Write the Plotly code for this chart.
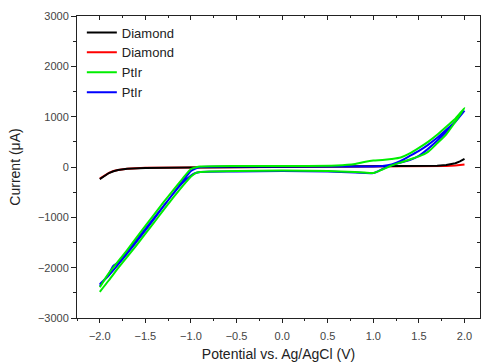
import plotly.graph_objects as go

# Diamond (black)
dia1_x = [-2.0, -1.95, -1.9, -1.85, -1.8, -1.7, -1.6, -1.5, -1.0, -0.5, 0.0, 0.5, 1.0, 1.5, 1.7, 1.8, 1.9, 1.95, 2.0]
dia1_y = [-240, -180, -120, -85, -60, -35, -25, -18, -10, -5, 0, 2, 5, 12, 25, 40, 75, 110, 160]
# Diamond (red)
dia2_x = [-2.0, -1.95, -1.9, -1.85, -1.8, -1.7, -1.6, -1.5, -1.0, -0.5, 0.0, 0.5, 1.0, 1.5, 1.7, 1.8, 1.9, 1.95, 2.0]
dia2_y = [-230, -175, -115, -80, -58, -33, -23, -16, -10, -5, 0, 0, 3, 8, 15, 20, 30, 40, 50]

# PtIr (green) closed loop
ptir1_x = [-2.0, -1.9, -1.8, -1.6, -1.4, -1.2, -1.05, -1.0, -0.95, -0.9, -0.8, -0.5, 0.0, 0.5, 0.8, 0.9, 1.0, 1.1, 1.2, 1.3, 1.4, 1.5, 1.6, 1.7, 1.8, 1.9, 2.0,
           1.9, 1.8, 1.7, 1.6, 1.5, 1.4, 1.3, 1.2, 1.1, 1.0, 0.9, 0.8, 0.6, 0.0, -0.5, -0.9, -0.95, -1.0, -1.1, -1.3, -1.5, -1.7, -1.9, -2.0]
ptir1_y = [-2480, -2250, -2010, -1560, -1090, -620, -290, -190, -120, -100, -90, -80, -70, -80, -100, -110, -120, -50, 30, 90, 150, 210, 300, 470, 650, 900, 1170,
           960, 800, 640, 500, 380, 270, 190, 160, 140, 130, 100, 60, 30, 20, 20, 10, -10, -40, -250, -700, -1170, -1650, -2110, -2390]

# PtIr (blue) closed loop
ptir2_x = [-2.0, -1.9, -1.85, -1.8, -1.7, -1.5, -1.3, -1.1, -1.0, -0.95, -0.9, -0.5, 0.0, 0.5, 0.8, 1.0, 1.1, 1.2, 1.3, 1.4, 1.5, 1.6, 1.7, 1.8, 1.9, 2.0,
           1.9, 1.8, 1.7, 1.6, 1.5, 1.4, 1.3, 1.2, 1.1, 1.0, 0.5, 0.0, -0.5, -0.9, -0.95, -1.0, -1.1, -1.3, -1.5, -1.7, -1.9, -2.0]
ptir2_y = [-2360, -2120, -1960, -1900, -1680, -1230, -770, -330, -170, -120, -100, -90, -80, -90, -110, -120, -40, 40, 90, 140, 220, 360, 520, 700, 900, 1120,
           900, 740, 580, 440, 320, 220, 120, 50, 20, 10, 10, 10, 10, 0, -30, -80, -300, -780, -1260, -1720, -2150, -2330]

font = "Arial, Liberation Sans, sans-serif"

fig = go.Figure()
fig.add_trace(go.Scatter(x=dia2_x, y=dia2_y, mode="lines", name="Diamond",
                         line=dict(color="#ff0000", width=2), legendrank=2))
fig.add_trace(go.Scatter(x=dia1_x, y=dia1_y, mode="lines", name="Diamond",
                         line=dict(color="#000000", width=2), legendrank=1))
fig.add_trace(go.Scatter(x=ptir2_x, y=ptir2_y, mode="lines", name="PtIr",
                         line=dict(color="#0000ff", width=2, shape="spline", smoothing=0.6), legendrank=4))
fig.add_trace(go.Scatter(x=ptir1_x, y=ptir1_y, mode="lines", name="PtIr",
                         line=dict(color="#00ee00", width=2, shape="spline", smoothing=0.6), legendrank=3))

xr = [-2.25, 2.17]
yr = [-3000, 3000]
fig.update_layout(
    width=482, height=364,
    margin=dict(l=77, r=2, t=16, b=46),
    paper_bgcolor="white", plot_bgcolor="white",
    font=dict(family=font, size=11, color="#444444"),
    showlegend=True,
    legend=dict(x=0.012, y=0.995, xanchor="left", yanchor="top",
                bgcolor="rgba(0,0,0,0)", font=dict(size=13, color="#222222"),
                tracegroupgap=0, itemwidth=30),
    xaxis=dict(range=xr, showgrid=False, zeroline=False, showline=True,
               linecolor="#222", linewidth=1, ticks="outside", ticklen=4,
               tickcolor="#222", dtick=0.5, tick0=0, tickformat=".1f",
               ticklabelstandoff=4,
               minor=dict(ticks="outside", ticklen=2, dtick=0.25, tickcolor="#222"),
               title=dict(text="Potential vs. Ag/AgCl (V)", font=dict(size=14, color="#222"), standoff=7)),
    yaxis=dict(range=yr, showgrid=False, zeroline=False, showline=True,
               linecolor="#222", linewidth=1, ticks="outside", ticklen=5,
               tickcolor="#222", dtick=1000, tick0=0,
               minor=dict(ticks="outside", ticklen=3, dtick=500, tickcolor="#222"),
               title=dict(text="Current (μA)", font=dict(size=14, color="#222"), standoff=13)),
    xaxis2=dict(range=xr, overlaying="x", side="top", showgrid=False, zeroline=False,
                showline=True, linecolor="#222", linewidth=1, ticks="inside",
                ticklen=4, tickcolor="#222", dtick=0.5, tick0=0, showticklabels=False,
                minor=dict(ticks="inside", ticklen=2, dtick=0.25, tickcolor="#222")),
    yaxis2=dict(range=yr, overlaying="y", side="right", showgrid=False, zeroline=False,
                showline=True, linecolor="#222", linewidth=1, ticks="inside",
                ticklen=5, tickcolor="#222", dtick=1000, tick0=0, showticklabels=False,
                minor=dict(ticks="inside", ticklen=3, dtick=500, tickcolor="#222")),
)
fig.add_trace(go.Scatter(x=[None], y=[None], xaxis="x2", yaxis="y2", showlegend=False, hoverinfo="skip"))

fig.write_html("out.html")
